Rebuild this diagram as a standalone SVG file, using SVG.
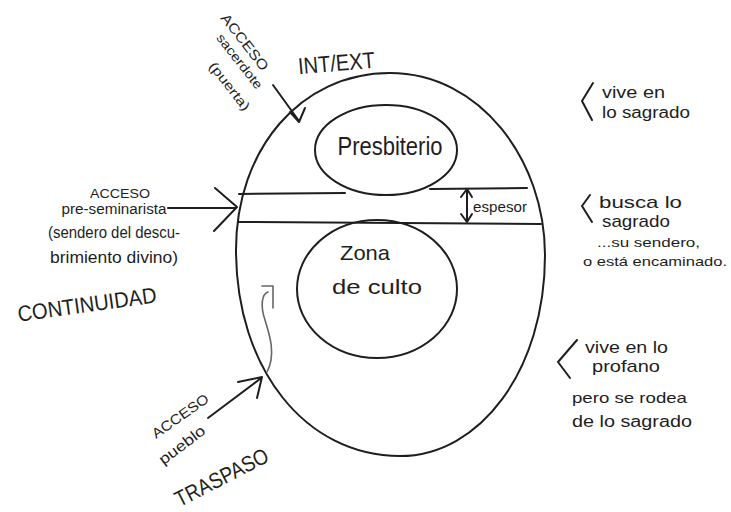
<svg xmlns="http://www.w3.org/2000/svg" width="731" height="512" viewBox="0 0 731 512">
<style>
  .ln{fill:none;stroke:#1e1e1e;stroke-width:2;stroke-linecap:round;stroke-linejoin:round}
  .lt{fill:none;stroke:#666;stroke-width:1.6;stroke-linecap:round;stroke-linejoin:round}
  text{font-family:"Liberation Sans Narrow","Liberation Sans",Arial,sans-serif;fill:#1e1e1e}
  .m{text-anchor:middle}
</style>
<rect width="731" height="512" fill="#ffffff"/>

<g id="outer-oval">
  <path class="ln" d="M390 73 C480 73 545 160 545 255 C545 370 480 456 400 456 C305 456 236 368 236 250 C236 150 300 73 390 73 Z"/>
</g>

<g id="band">
  <path class="ln" d="M239 194 L345 193 M430 189 L527 188"/>
  <path class="ln" d="M239 222 L541 224"/>
</g>

<g id="presbiterio">
  <ellipse class="ln" cx="386" cy="150" rx="71" ry="45"/>
  <text class="m" x="390" y="155" font-size="25" textLength="105" lengthAdjust="spacingAndGlyphs">Presbiterio</text>
</g>

<g id="zona-de-culto">
  <ellipse class="ln" cx="377" cy="289" rx="80" ry="69"/>
  <text class="m" x="365" y="260" font-size="21" textLength="50" lengthAdjust="spacingAndGlyphs">Zona</text>
  <text class="m" x="377" y="294" font-size="21" textLength="90" lengthAdjust="spacingAndGlyphs">de culto</text>
</g>

<g id="espesor">
  <text x="473" y="212" font-size="15" textLength="54" lengthAdjust="spacingAndGlyphs">espesor</text>
</g>

<g id="int-ext">
  <text class="m" transform="translate(337 71) rotate(-5)" font-size="23" textLength="77" lengthAdjust="spacingAndGlyphs">INT/EXT</text>
</g>

<g id="acceso-sacerdote">
  <text class="m" transform="translate(241 45) rotate(52)" font-size="14" textLength="68" lengthAdjust="spacingAndGlyphs">ACCESO</text>
  <text class="m" transform="translate(236 64) rotate(52)" font-size="13" textLength="66" lengthAdjust="spacingAndGlyphs">sacerdote</text>
  <text class="m" transform="translate(226 89) rotate(52)" font-size="13" textLength="58" lengthAdjust="spacingAndGlyphs">(puerta)</text>
</g>

<g id="acceso-pre-seminarista">
  <text class="m" x="120" y="198" font-size="13" textLength="60" lengthAdjust="spacingAndGlyphs">ACCESO</text>
  <text class="m" x="114" y="214" font-size="14" textLength="105" lengthAdjust="spacingAndGlyphs">pre-seminarista</text>
  <text class="m" x="114" y="238" font-size="16" textLength="132" lengthAdjust="spacingAndGlyphs">(sendero del descu-</text>
  <text class="m" x="114" y="263" font-size="16" textLength="128" lengthAdjust="spacingAndGlyphs">brimiento divino)</text>
</g>

<g id="continuidad">
  <text class="m" transform="translate(88 312) rotate(-8)" font-size="22" textLength="140" lengthAdjust="spacingAndGlyphs">CONTINUIDAD</text>
</g>

<g id="acceso-pueblo">
  <text class="m" transform="translate(183 420) rotate(-35)" font-size="14" textLength="66" lengthAdjust="spacingAndGlyphs">ACCESO</text>
  <text class="m" transform="translate(185 449) rotate(-37)" font-size="15" textLength="54" lengthAdjust="spacingAndGlyphs">pueblo</text>
</g>

<g id="traspaso">
  <text class="m" transform="translate(225 484) rotate(-27)" font-size="22" textLength="102" lengthAdjust="spacingAndGlyphs">TRASPASO</text>
</g>

<g id="nota-vive-sagrado">
  <path class="ln" d="M593 83 L582 101 L592 120"/>
  <text x="602" y="98" font-size="16" textLength="63" lengthAdjust="spacingAndGlyphs">vive en</text>
  <text x="602" y="118" font-size="16" textLength="88" lengthAdjust="spacingAndGlyphs">lo sagrado</text>
</g>

<g id="nota-busca-sagrado">
  <path class="ln" d="M590 195 L582 206 L592 222"/>
  <text x="599" y="208" font-size="17" textLength="83" lengthAdjust="spacingAndGlyphs">busca lo</text>
  <text x="602" y="227" font-size="17" textLength="68" lengthAdjust="spacingAndGlyphs">sagrado</text>
  <text x="597" y="247" font-size="13" textLength="103" lengthAdjust="spacingAndGlyphs">...su sendero,</text>
  <text x="583" y="266" font-size="13" textLength="144" lengthAdjust="spacingAndGlyphs">o está encaminado.</text>
</g>

<g id="nota-vive-profano">
  <path class="ln" d="M577 340 L558 362 L570 378"/>
  <text x="585" y="353" font-size="17" textLength="83" lengthAdjust="spacingAndGlyphs">vive en lo</text>
  <text x="592" y="372" font-size="17" textLength="68" lengthAdjust="spacingAndGlyphs">profano</text>
  <text x="572" y="403" font-size="15" textLength="115" lengthAdjust="spacingAndGlyphs">pero se rodea</text>
  <text x="572" y="427" font-size="16" textLength="120" lengthAdjust="spacingAndGlyphs">de lo sagrado</text>
</g>

<g id="connectors">
  <path class="ln" d="M273 85 L299 121 M290 112 L299 122 L305 108"/>
  <path class="ln" d="M168 208 L236 208 M215 188 L237 207 L214 231"/>
  <path class="ln" d="M208 418 L260 379 M238 382 L262 377 L257 398"/>
  <path class="ln" d="M467 190 L467 221 M461 197 L467 189 L472 197 M461 214 L467 222 L472 214"/>
  <path class="lt" d="M267 372 C276 355 270 336 265 320 C260 305 262 294 268 292"/>
  <path class="lt" d="M262 286 L273 286 L273 308"/>
</g>
</svg>
